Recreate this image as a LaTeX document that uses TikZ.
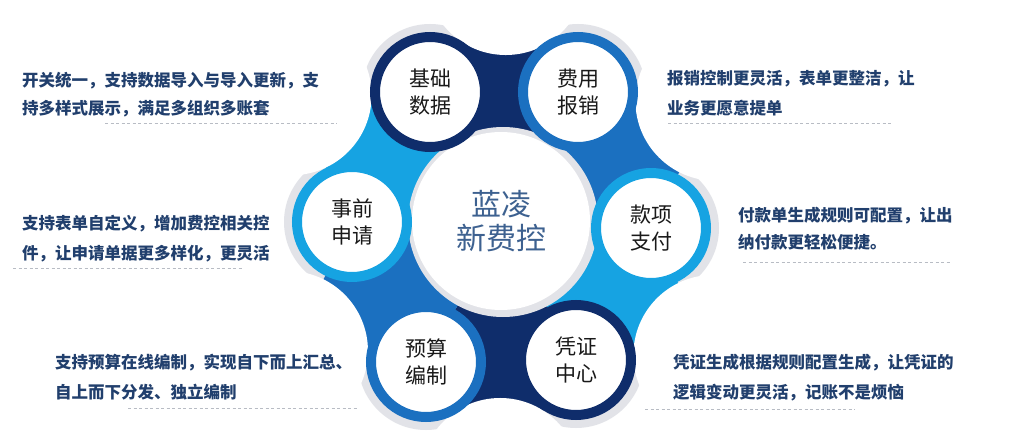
\documentclass[tikz,border=0pt]{standalone}
\usepackage{fontspec}
\setmainfont{Noto Sans CJK SC}
\usetikzlibrary{calc}
\definecolor{navy}{HTML}{0F2D6B}
\definecolor{midblue}{HTML}{1B70C0}
\definecolor{lightblue}{HTML}{16A3E2}
\definecolor{halo}{HTML}{E2E3E8}
\definecolor{sidetext}{HTML}{213F6D}
\definecolor{centertext}{HTML}{3D6190}
\definecolor{dashgrey}{HTML}{B8BCC4}
\begin{document}
\begin{tikzpicture}[x=1pt,y=-1pt,
  ringnode/.style={circle, fill=white, draw=#1, line width=10pt, minimum size=110pt,
    inner sep=0pt, align=center, font=\fontsize{21}{27}\selectfont, text=black!90},
  sideline/.style={anchor=base west, inner sep=0pt, text=sidetext,
    font=\bfseries\fontsize{16.5}{20}\selectfont},
  dashline/.style={draw=dashgrey, line width=0.8pt, dash pattern=on 3pt off 2.5pt},
  ]
\fill[white] (0,0) rectangle (1029,436);
\useasboundingbox (0,0) rectangle (1029,436);

% ring centres and hub
\coordinate (O) at (502,226);
\coordinate (C) at (503,222);
\coordinate (P1) at (430,92);
\coordinate (P2) at (578,92);
\coordinate (P3) at (651,228);
\coordinate (P4) at (576,360);
\coordinate (P5) at (426,362);
\coordinate (P6) at (352,222);

% grey halos behind ring circles
\foreach \i in {1,...,6} { \fill[halo] (P\i) circle[radius=68pt]; }

% coloured bands between neighbours
\foreach \a/\b/\c in {1/2/navy, 2/3/midblue, 3/4/lightblue, 4/5/navy, 5/6/midblue, 6/1/lightblue} {
  \coordinate (M\a\b) at ($(P\a)!.5!(P\b)$);
  \coordinate (N\a\b) at ($(M\a\b)!-117pt!(O)$);
  \fill[\c] (O) -- (P\a) -- (N\a\b) -- (P\b) -- cycle;
}
% concave notches on the outside
\foreach \a/\b in {1/2, 2/3, 3/4, 4/5, 5/6, 6/1} {
  \fill[white] (N\a\b) circle[radius=80pt];
}

% central hub
\fill[halo] (C) circle[radius=95pt];
\node[circle, fill=white, minimum size=178pt, inner sep=0pt, align=center,
  text=centertext, font=\fontsize{30}{34}\selectfont] (hub) at (501,221) {蓝凌\\新费控};

% ring circles
\node[ringnode=navy] (jc) at (P1) {基础\\数据};
\node[ringnode=midblue] (fy) at (P2) {费用\\报销};
\node[ringnode=lightblue] (kx) at (P3) {款项\\支付};
\node[ringnode=navy] (pz) at (P4) {凭证\\中心};
\node[ringnode=midblue] (ys) at (P5) {预算\\编制};
\node[ringnode=lightblue] (sq) at (P6) {事前\\申请};

% side texts
\node[sideline] (t1a) at (22,86.3) {开关统一，支持数据导入与导入更新，支};
\node[sideline] (t1b) at (22,114.3) {持多样式展示，满足多组织多账套};
\node[sideline] (t2a) at (667,84.3) {报销控制更灵活，表单更整洁，让};
\node[sideline] (t2b) at (667,114.3) {业务更愿意提单};
\node[sideline] (t3a) at (22,229.3) {支持表单自定义，增加费控相关控};
\node[sideline] (t3b) at (22,259.3) {件，让申请单据更多样化，更灵活};
\node[sideline] (t4a) at (738,221.3) {付款单生成规则可配置，让出};
\node[sideline] (t4b) at (738,248.3) {纳付款更轻松便捷。};
\node[sideline] (t5a) at (55,368.3) {支持预算在线编制，实现自下而上汇总、};
\node[sideline] (t5b) at (55,398.3) {自上而下分发、独立编制};
\node[sideline] (t6a) at (673,368.3) {凭证生成根据规则配置生成，让凭证的};
\node[sideline] (t6b) at (673,398.3) {逻辑变动更灵活，记账不是烦恼};

% dashed rules
\draw[dashline] (105,123) -- (337,123);
\draw[dashline] (668,123) -- (893,123);
\draw[dashline] (13,268) -- (243,268);
\draw[dashline] (743,262) -- (950,262);
\draw[dashline] (128,408) -- (358,408);
\draw[dashline] (645,409) -- (855,409);
\end{tikzpicture}
\end{document}
